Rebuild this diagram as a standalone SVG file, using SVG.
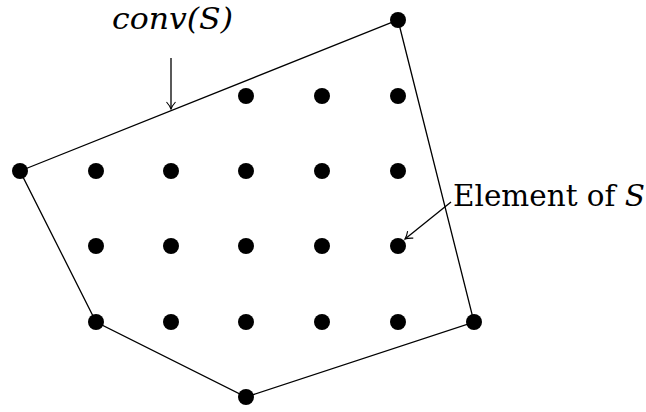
<svg xmlns="http://www.w3.org/2000/svg" width="646" height="412" viewBox="0 0 646 412">
<style>
.dot{fill:#000}
.edge{fill:none;stroke:#000;stroke-width:1.3}
.lbl{font-family:'DejaVu Serif','Liberation Serif',serif;font-size:29px;fill:#000}
.it{font-style:italic}
</style>
<defs>
<marker id="arr" viewBox="-8 -6 10 12" markerWidth="10" markerHeight="12" refX="0" refY="0" orient="auto" markerUnits="userSpaceOnUse">
<path d="M -7 -4.5 Q -3 -1 0 0 Q -3 1 -7 4.5" fill="none" stroke="#000" stroke-width="1.1"/>
</marker>
</defs>
<g id="connectors">
<polygon class="edge" points="20,171 398,20 474,322 246,397 96,322"/>
<line class="edge" x1="171" y1="58" x2="171" y2="109" marker-end="url(#arr)"/>
<line class="edge" x1="451" y1="202" x2="405" y2="239" marker-end="url(#arr)"/>
</g>
<g id="hull-vertices">
<circle class="dot" cx="20" cy="171" r="8"/>
<circle class="dot" cx="398" cy="20" r="8"/>
<circle class="dot" cx="474" cy="322" r="8"/>
<circle class="dot" cx="246" cy="397" r="8"/>
<circle class="dot" cx="96" cy="322" r="8"/>
</g>
<g id="points">
<circle class="dot" cx="246" cy="96" r="8"/>
<circle class="dot" cx="322" cy="96" r="8"/>
<circle class="dot" cx="398" cy="96" r="8"/>
<circle class="dot" cx="96" cy="171" r="8"/>
<circle class="dot" cx="171" cy="171" r="8"/>
<circle class="dot" cx="246" cy="171" r="8"/>
<circle class="dot" cx="322" cy="171" r="8"/>
<circle class="dot" cx="398" cy="171" r="8"/>
<circle class="dot" cx="96" cy="246" r="8"/>
<circle class="dot" cx="171" cy="246" r="8"/>
<circle class="dot" cx="246" cy="246" r="8"/>
<circle class="dot" cx="322" cy="246" r="8"/>
<circle class="dot" cx="398" cy="246" r="8"/>
<circle class="dot" cx="171" cy="322" r="8"/>
<circle class="dot" cx="246" cy="322" r="8"/>
<circle class="dot" cx="322" cy="322" r="8"/>
<circle class="dot" cx="398" cy="322" r="8"/>
</g>
<g id="label-conv">
<text class="lbl it" x="112" y="29" textLength="121" lengthAdjust="spacingAndGlyphs">conv(S)</text>
</g>
<g id="label-element">
<text class="lbl" x="453" y="206" textLength="192" lengthAdjust="spacingAndGlyphs">Element of <tspan class="it">S</tspan></text>
</g>
</svg>
